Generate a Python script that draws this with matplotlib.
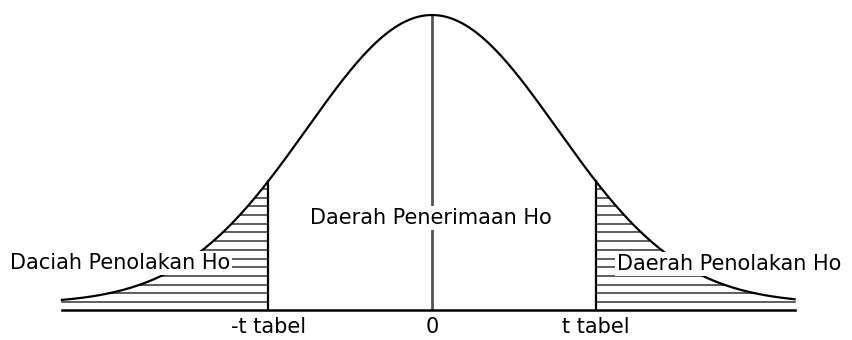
import numpy as np
import matplotlib
matplotlib.use("Agg")
import matplotlib.pyplot as plt

# ---- data ----
t_crit = 1.31            # critical value (|t tabel|) in standard units
z_min, z_max = -2.96, 2.90  # extent of drawn curve
tail_floor = 0.022       # small lift of the drawn tails
tick_pos = [-t_crit, 0.0, t_crit]
tick_labels = ["-t tabel", "0", "t tabel"]
label_accept = "Daerah Penerimaan Ho"
label_reject_left = "Daciah Penolakan Ho"
label_reject_right = "Daerah Penolakan Ho"

plt.rcParams['font.family'] = ['DejaVu Sans']

W, H = 853, 340
fig = plt.figure(figsize=(W / 100, H / 100), dpi=100)
sx = 125.0   # px per z unit
sy = 295.0   # px per density unit (peak = 1)
base_px = 310
ax = fig.add_axes([0, (H - base_px) / H, 1, base_px / H])
ax.set_xlim(-432 / sx, (W - 432) / sx)
ax.set_ylim(0, base_px / sy)
for s in ax.spines.values():
    s.set_visible(False)
ax.set_yticks([])

def dens(z):
    return tail_floor + (1 - tail_floor) * np.exp(-0.5 * np.asarray(z) ** 2)

def inv(h):
    return np.sqrt(-2 * np.log((h - tail_floor) / (1 - tail_floor)))

z = np.linspace(z_min, z_max, 600)
ax.plot(z, dens(z), color='black', lw=1.6, zorder=2)

# baseline
ax.plot([z_min, z_max], [0, 0], color='black', lw=1.8, zorder=2, clip_on=False)
# center line
ax.plot([0, 0], [0, 1], color='#555555', lw=2.0, zorder=1)
# critical lines
ax.plot([-t_crit, -t_crit], [0, dens(t_crit)], color='black', lw=1.6, zorder=2)
ax.plot([t_crit, t_crit], [0, dens(t_crit)], color='black', lw=1.6, zorder=2)

# hatching in tails
step = 8.7 / sy
levels = np.arange(8.0 / sy, dens(t_crit), step)
for h in levels:
    zr = inv(h) if h > dens(z_max) else z_max
    zl = -inv(h) if h > dens(z_min) else z_min
    ax.plot([zl, -t_crit], [h, h], color='#333333', lw=1.1, zorder=1)
    ax.plot([t_crit, zr], [h, h], color='#333333', lw=1.1, zorder=1)

fs = 15
box = dict(facecolor='white', edgecolor='none', pad=1.5)
ax.text((310 - 432) / sx, (base_px - 218) / sy, label_accept, ha='left', va='center',
        fontsize=fs, bbox=box, zorder=5)
ax.text((10 - 432) / sx, (base_px - 263) / sy, label_reject_left, ha='left', va='center',
        fontsize=fs, bbox=box, zorder=5)
ax.text((617 - 432) / sx, (base_px - 264) / sy, label_reject_right, ha='left', va='center',
        fontsize=fs, bbox=box, zorder=5)

ax.set_xticks(tick_pos)
ax.set_xticklabels(tick_labels, fontsize=fs)
ax.tick_params(axis='x', length=0, pad=5)

fig.savefig("out.png", dpi=100, facecolor='white')
